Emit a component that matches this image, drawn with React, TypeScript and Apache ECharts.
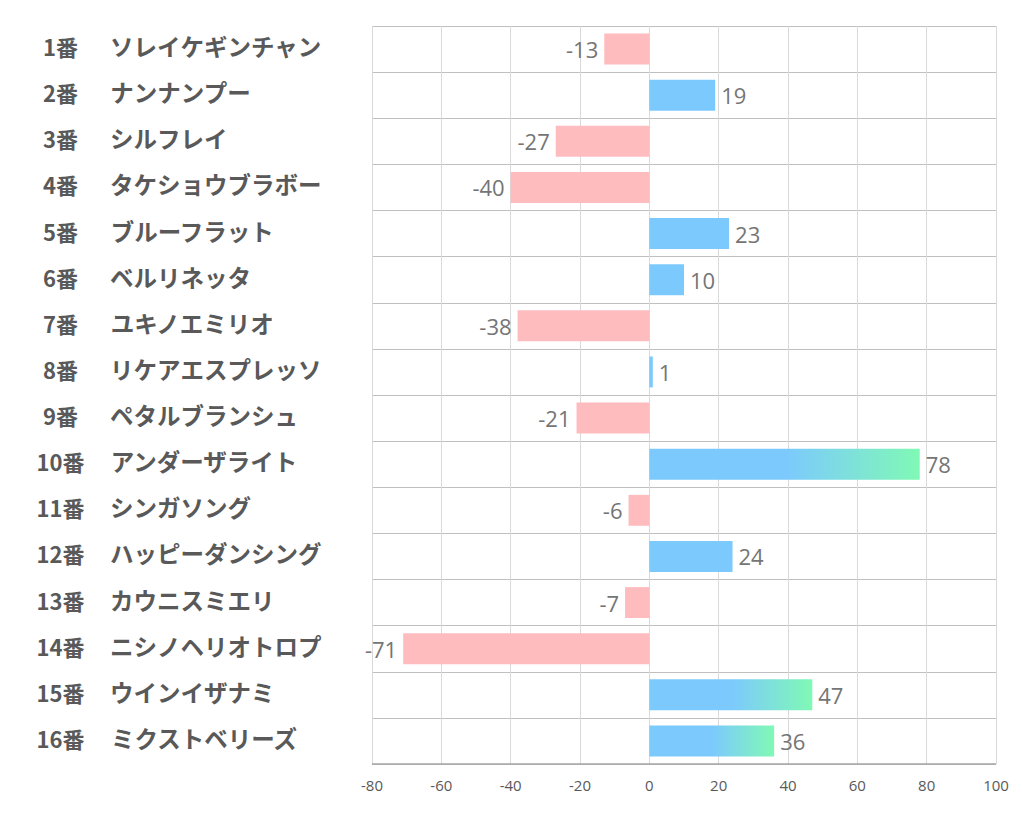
import React, { useEffect, useRef } from "react";
import * as echarts from "echarts";

const numbers = ["1番","2番","3番","4番","5番","6番","7番","8番","9番","10番","11番","12番","13番","14番","15番","16番"];
const names = ["ソレイケギンチャン","ナンナンプー","シルフレイ","タケショウブラボー","ブルーフラット","ベルリネッタ","ユキノエミリオ","リケアエスプレッソ","ペタルブランシュ","アンダーザライト","シンガソング","ハッピーダンシング","カウニスミエリ","ニシノヘリオトロプ","ウインイザナミ","ミクストベリーズ"];
const values = [-13, 19, -27, -40, 23, 10, -38, 1, -21, 78, -6, 24, -7, -71, 47, 36];

const PINK = "#FFBCBF";
const BLUE = "#7CC9FE";
const GREEN = "#80F9B5";

export default function App() {
  const ref = useRef<HTMLDivElement>(null);
  useEffect(() => {
    if (!ref.current) return;
    const chart = echarts.init(ref.current, undefined, { renderer: "svg" });
    const cats = numbers.map((n, i) => n + "\u0000" + names[i]);
    const data = values.map((v) => {
      let color: any = v < 0 ? PINK : BLUE;
      if (v >= 30) {
        color = new echarts.graphic.LinearGradient(0, 0, 1, 0, [
          { offset: 0, color: BLUE },
          { offset: 0.5, color: BLUE },
          { offset: 1, color: GREEN },
        ]);
      }
      return {
        value: v,
        itemStyle: { color },
        label: { position: v < 0 ? "left" : "right" },
      };
    });
    chart.setOption({
      animation: false,
      grid: { left: 372, right: 26, top: 26, bottom: 70, containLabel: false },
      xAxis: {
        type: "value",
        min: -80,
        max: 100,
        interval: 20,
        axisLine: { show: false },
        axisTick: { show: false },
        axisLabel: { color: "#595959", fontSize: 15, margin: 13, fontFamily: "Open Sans" },
        splitLine: { show: true, lineStyle: { color: "#D9D9D9", width: 1 } },
      },
      yAxis: {
        type: "category",
        inverse: true,
        data: cats,
        axisLine: { show: false },
        axisTick: { show: false },
        splitLine: { show: true, lineStyle: { color: "#BFBFBF", width: 1 } },
        axisLabel: {
          align: "left",
          margin: 335,
          padding: [0, 0, 6, 0],
          formatter: (val: string) => {
            const [n, nm] = val.split("\u0000");
            return "{a|" + n + "}{b|" + nm + "}";
          },
          rich: {
            a: { width: 47, align: "right", fontSize: 22, fontWeight: "bold", color: "#595959", fontFamily: "Noto Sans CJK JP" },
            b: { fontSize: 23.5, fontWeight: "bold", color: "#595959", padding: [0, 0, 0, 26], fontFamily: "Noto Sans CJK JP" },
          },
        },
      },
      series: [
        {
          type: "bar",
          data,
          barWidth: "67%",
          label: {
            show: true,
            distance: 6,
            color: "#757575",
            fontSize: 22,
            fontFamily: "Open Sans",
          },
          markLine: {
            silent: true,
            symbol: "none",
            label: { show: false },
            lineStyle: { color: "#A6A6A6", type: "solid", width: 1.5 },
            data: [[{ coord: [-80, 15], y: 764 }, { coord: [100, 15], y: 764 }]],
          },
        },
      ],
    });
    return () => chart.dispose();
  }, []);
  return <div ref={ref} style={{ position: "absolute", left: 0, top: 0, width: 1022, height: 834 }} />;
}
